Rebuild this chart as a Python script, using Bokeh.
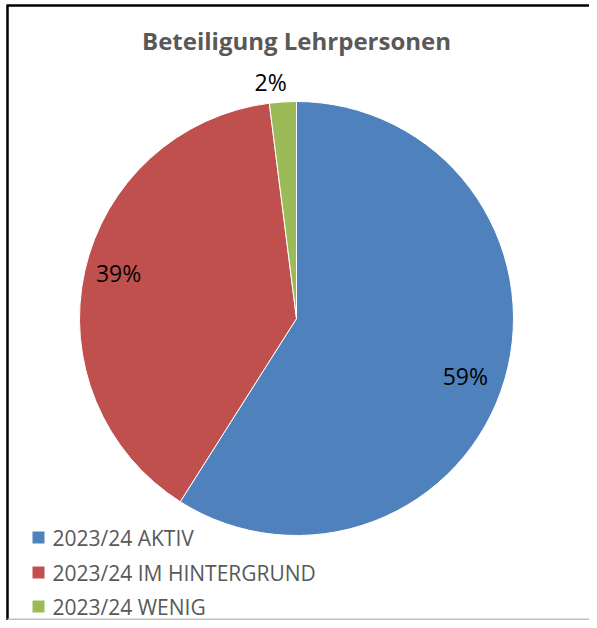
import math
from bokeh.plotting import figure
from bokeh.models import Range1d, ColumnDataSource
from bokeh.core.properties import value
from bokeh.embed import file_html
from bokeh.resources import INLINE

title = "Beteiligung Lehrpersonen"
categories = ["2023/24 AKTIV", "2023/24 IM HINTERGRUND", "2023/24 WENIG"]
shares = [59, 39, 2]
labels = ["59%", "39%", "2%"]
colors = ["#4F81BD", "#C0504D", "#9BBB59"]

W, H = 589, 620
p = figure(width=W, height=H, output_backend="svg", toolbar_location=None,
           x_range=Range1d(0, W), y_range=Range1d(0, H),
           min_border=0, outline_line_color=None)
p.axis.visible = False
p.grid.visible = False
p.background_fill_color = "white"

# pie geometry (screen coords -> data: x = px, y = H - py)
cx, cy, r = 296, H - 318, 217
total = sum(shares)
starts, ends, mids = [], [], []
cum = 0
for s in shares:
    a0 = math.pi / 2 - 2 * math.pi * cum / total
    cum += s
    a1 = math.pi / 2 - 2 * math.pi * cum / total
    starts.append(a0)
    ends.append(a1)
    mids.append((a0 + a1) / 2)

src = ColumnDataSource(dict(start=starts, end=ends, color=colors,
                            x=[cx] * 3, y=[cy] * 3))
p.wedge(x="x", y="y", radius=r, start_angle="start", end_angle="end",
        direction="clock", fill_color="color", line_color="white",
        line_width=1, source=src)

# data labels
rad_f = [0.81, 0.84, 1.09]
dx_adj = [0, 0, -11]
dy_adj = [-8, 6, 0]
lx = [cx + f * r * math.cos(m) + a for f, m, a in zip(rad_f, mids, dx_adj)]
ly = [cy + f * r * math.sin(m) + a for f, m, a in zip(rad_f, mids, dy_adj)]
p.text(x=lx, y=ly, text=labels, text_font=value("Open Sans"),
       text_font_size="23px", text_color="#000000",
       text_align="center", text_baseline="middle")

# title
p.text(x=[296], y=[H - 40], text=[title], text_font=value("Open Sans"),
       text_font_style="bold", text_font_size="24px",
       text_color="#595959", text_align="center", text_baseline="middle")

# legend
leg_y = [H - 537, H - 572, H - 606]
p.rect(x=[38] * 3, y=leg_y, width=12, height=12, fill_color=colors,
       line_color=None)
p.text(x=[52] * 3, y=leg_y, text=categories, text_font=value("Open Sans"),
       text_font_size="21px", text_color="#595959",
       text_align="left", text_baseline="middle")

# chart border (top, left: black; bottom: light gray)
p.segment(x0=[6, 7], y0=[H - 5, H - 5], x1=[W, 7], y1=[H - 5, 0],
          line_color="black", line_width=2.5)
p.segment(x0=[7], y0=[1], x1=[W], y1=[1], line_color="#BFBFBF", line_width=2)

open("out.html", "w").write(file_html(p, INLINE))
